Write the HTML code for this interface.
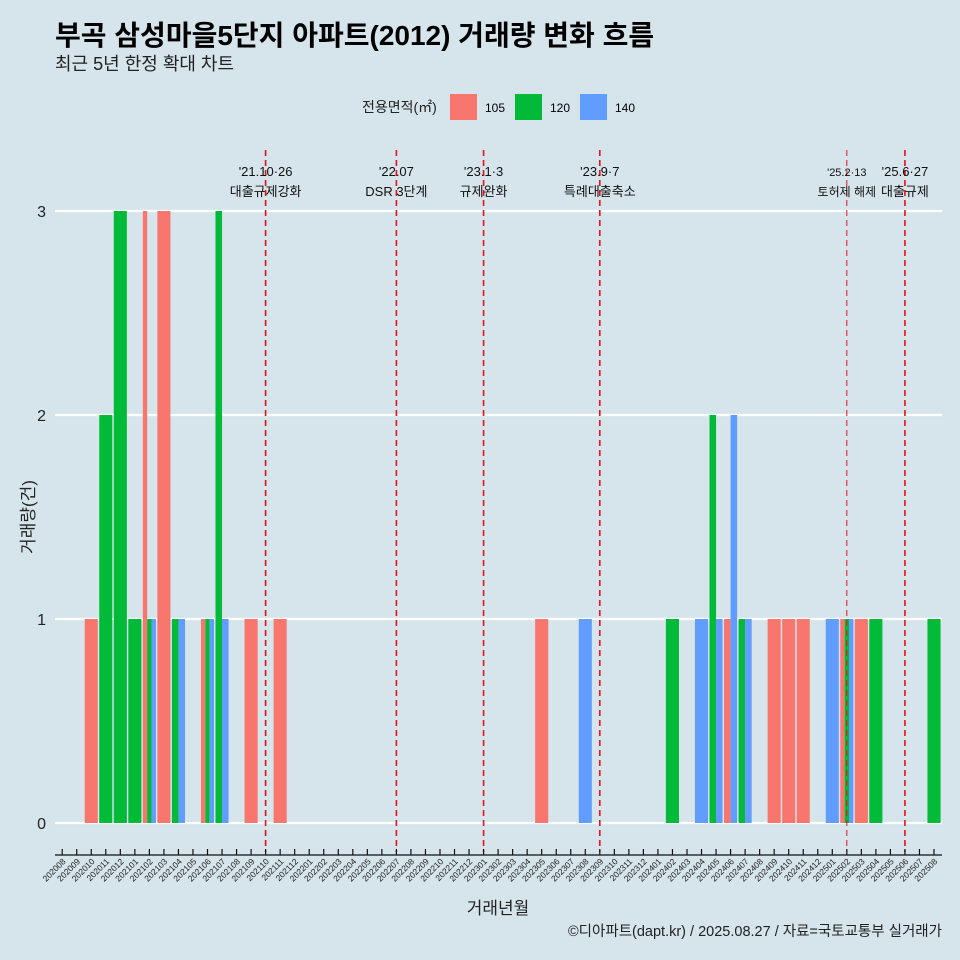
<!DOCTYPE html>
<html><head><meta charset="utf-8">
<style>
html,body{margin:0;padding:0;background:#d6e4eb;}
svg{display:block;font-family:"Liberation Sans","Noto Sans CJK KR",sans-serif;}
</style></head>
<body>
<svg id="chart" width="960" height="960" viewBox="0 0 960 960">
<rect width="960" height="960" fill="#d6e4eb"/>
<text x="55" y="45" font-size="28" font-weight="bold" fill="#000">부곡 삼성마을5단지 아파트(2012) 거래량 변화 흐름</text>
<text x="55" y="70" font-size="18" fill="#222">최근 5년 한정 확대 차트</text>
<g>
<text x="362" y="112" font-size="14" fill="#222">전용면적(㎡)</text>
<rect x="450" y="94" width="27" height="26" fill="#f8766d"/>
<text x="485" y="112" font-size="12">105</text>
<rect x="515" y="94" width="27" height="26" fill="#00ba38"/>
<text x="550" y="112" font-size="12">120</text>
<rect x="580" y="94" width="27" height="26" fill="#619cff"/>
<text x="615" y="112" font-size="12">140</text>
</g>
<g id="grid"></g><g id="bars"></g><g id="events"></g><g id="axes"></g>
<text transform="translate(34,517) rotate(-90)" text-anchor="middle" font-size="17" fill="#222">거래량(건)</text>
<text x="498" y="914" text-anchor="middle" font-size="17" fill="#222">거래년월</text>
<text x="942" y="936" text-anchor="end" font-size="14.5" fill="#222">©디아파트(dapt.kr) / 2025.08.27 / 자료=국토교통부 실거래가</text>
</svg>
<script>
const months = [];
for (let y = 2020, m = 8; !(y === 2025 && m === 9); ) { months.push(String(y) + String(m).padStart(2, '0')); m++; if (m > 12) { m = 1; y++; } }
const sizes = ['105', '120', '140'];
const colors = {'105': '#f8766d', '120': '#00ba38', '140': '#619cff'};
const val105 = {'202010':1,'202102':3,'202103':3,'202106':1,'202109':1,'202111':1,'202305':1,'202406':1,'202409':1,'202410':1,'202411':1,'202502':1,'202503':1};
const val120 = {'202011':2,'202012':3,'202101':1,'202102':1,'202104':1,'202106':1,'202107':3,'202402':1,'202405':2,'202407':1,'202502':1,'202504':1,'202508':1};
const val140 = {'202102':1,'202104':1,'202106':1,'202107':1,'202308':1,'202404':1,'202405':1,'202406':2,'202407':1,'202501':1,'202502':1};
const yTicks = [0, 1, 2, 3];
const eventMonths = ['202110', '202207', '202301', '202309', '202502', '202506'];
const eventDates = ["'21.10·26", "'22.07", "'23.1·3", "'23.9·7", "'25.2·13", "'25.6·27"];
const eventLabels = ['대출규제강화', 'DSR 3단계', '규제완화', '특례대출축소', '토허제 해제', '대출규제'];

const NS = 'http://www.w3.org/2000/svg';
const X0 = 55, X1 = 942;
const step = 14.53, first = 62.2;
const xScale = i => first + i * step;
const yScale = v => 823 - v * 204;
function mk(tag, attrs, parent) { const e = document.createElementNS(NS, tag); for (const k in attrs) e.setAttribute(k, attrs[k]); document.getElementById(parent).appendChild(e); return e; }

yTicks.forEach(t => {
  const l = mk('line', {x1: X0, x2: X1, y1: yScale(t), y2: yScale(t), stroke: '#fff', 'stroke-width': 2.2}, 'grid');
  
  
  const tx = mk('text', {x: 46, y: yScale(t) + 6, 'text-anchor': 'end', 'font-size': 16, fill: '#222'}, 'axes');
  tx.textContent = t;
  
  
});

const series = {'105': val105, '120': val120, '140': val140};
const bw = step * 0.9;
months.forEach((mo, i) => {
  const present = sizes.filter(s => series[s][mo]);
  if (!present.length) return;
  const w = bw / present.length;
  present.forEach((s, j) => {
    const v = series[s][mo];
    const x = xScale(i) - bw / 2 + j * w;
    const r = mk('rect', {x: x, y: yScale(v), width: w, height: yScale(0) - yScale(v), fill: colors[s]}, 'bars');
    
    
  });
});

eventMonths.forEach((mo, k) => {
  const x = xScale(months.indexOf(mo));
  const thin = mo === '202502';
  const l = mk('line', {x1: x, x2: x, y1: 150, y2: 852, stroke: '#e8101a', 'stroke-width': thin ? 1 : 1.6, 'stroke-dasharray': '6,4'}, 'events');
  
  
  const fs = thin ? 11 : 13;
  const t1 = mk('text', {x: x, y: 176, 'text-anchor': 'middle', 'font-size': fs, fill: '#111'}, 'events');
  t1.textContent = eventDates[k];
  
  
  const t2 = mk('text', {x: x, y: 196, 'text-anchor': 'middle', 'font-size': thin ? 12 : 13, fill: '#111'}, 'events');
  t2.textContent = eventLabels[k];
  
  
});

const ax = mk('line', {x1: X0, x2: X1, y1: 855, y2: 855, stroke: '#111', 'stroke-width': 1.2}, 'axes');


months.forEach((mo, i) => {
  const x = xScale(i);
  const tk = mk('line', {x1: x, x2: x, y1: 849, y2: 855, stroke: '#111', 'stroke-width': 1.2}, 'axes');
  
  
  const tl = mk('text', {x: x + 4, y: 862, 'text-anchor': 'end', 'font-size': 8.5, fill: '#222', transform: 'rotate(-45 ' + (x + 4) + ' 862)'}, 'axes');
  tl.textContent = mo;
  
  
});
</script>
</body></html>
